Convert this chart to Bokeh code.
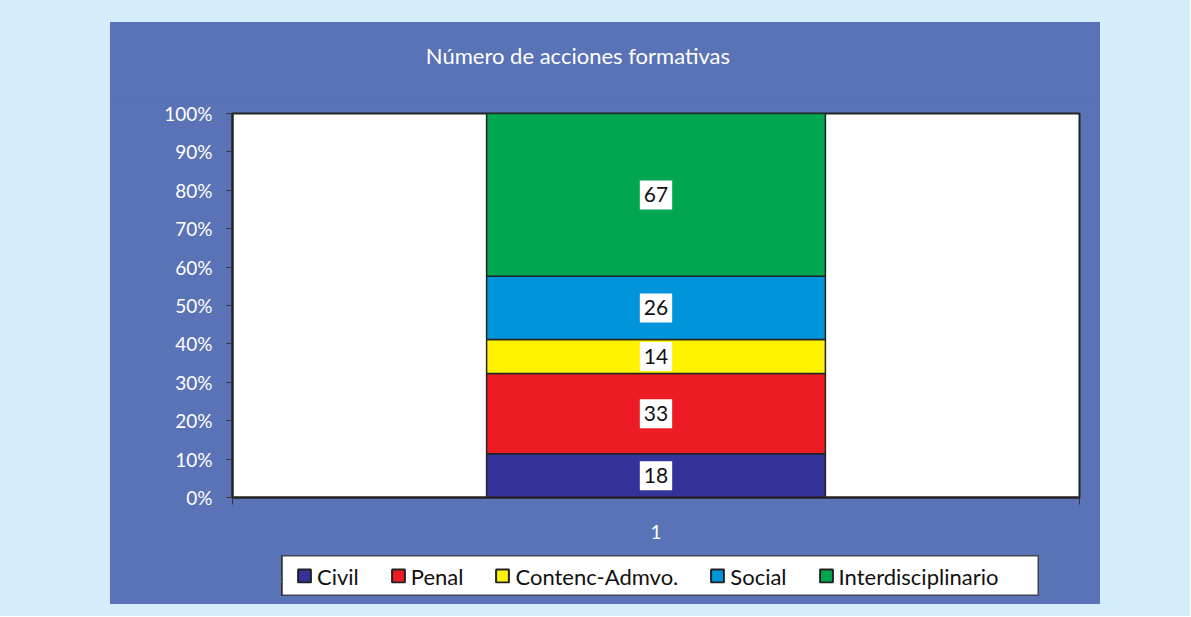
from bokeh.plotting import figure
from bokeh.models import (ColumnDataSource, Range1d, FixedTicker, NumeralTickFormatter,
                          Legend, LegendItem, Spacer, Label)
from bokeh.layouts import column, row
from bokeh.core.properties import value
from bokeh.embed import file_html
from bokeh.resources import INLINE

categories = ["Civil", "Penal", "Contenc-Admvo.", "Social", "Interdisciplinario"]
counts = [18, 33, 14, 26, 67]
colors = ["#333399", "#ed1c24", "#fff200", "#0095da", "#00a650"]
group_label = "1"
y_ticks = [0, 0.1, 0.2, 0.3, 0.4, 0.5, 0.6, 0.7, 0.8, 0.9, 1.0]
title_text = "Número de acciones formativas"

FONT = "Lato"
PANEL = "#5a72b6"
OUTER = "#d5ecfa"

total = sum(counts)
fracs = [c / total for c in counts]
keys = ["k%d" % i for i in range(len(categories))]
data = {"x": [0.5]}
for k, f in zip(keys, fracs):
    data[k] = [f]
src = ColumnDataSource(data)

# title strip: its own small figure whose frame is the whole strip
TW, TH = 990, 77
t = figure(width=TW, height=TH, output_backend="svg", toolbar_location=None,
           x_range=Range1d(0, TW), y_range=Range1d(0, TH),
           x_axis_location=None, y_axis_location=None, min_border=0, title=None)
t.xgrid.visible = False
t.ygrid.visible = False
t.background_fill_color = PANEL
t.border_fill_color = PANEL
t.outline_line_color = None
t.add_layout(Label(x=226, y=TH - 33, text=title_text, text_align="left", text_baseline="middle",
                   text_color="white", text_font=FONT, text_font_size="22px"))

p = figure(width=990, height=533 - TH, output_backend="svg", toolbar_location=None,
           x_range=Range1d(0, 1), y_range=Range1d(0, 1), title=None,
           min_border_left=122, min_border_right=21, min_border_top=91 - TH, min_border_bottom=58)
p.border_fill_color = PANEL
p.background_fill_color = "white"
p.outline_line_color = "#222222"
p.outline_line_width = 2
p.xgrid.visible = False
p.ygrid.visible = False

rs = p.vbar_stack(keys, x="x", width=0.4, color=colors, source=src,
                  line_color="#222222", line_width=1.5)

centers = []
cum = 0
for f in fracs:
    centers.append(cum + f / 2)
    cum += f
lsrc = ColumnDataSource(dict(x=[0.5] * len(counts), y=centers, t=[str(c) for c in counts]))
p.text(x="x", y="y", text="t", source=lsrc, text_align="center", text_baseline="middle",
       text_font=value(FONT), text_font_size="21px", text_color="#111111",
       background_fill_color="white", padding=(4, 7))

p.yaxis.ticker = FixedTicker(ticks=y_ticks)
p.yaxis.formatter = NumeralTickFormatter(format="0%")
p.yaxis.major_label_text_color = "white"
p.yaxis.major_label_text_font = FONT
p.yaxis.major_label_text_font_size = "19px"
p.yaxis.major_tick_out = 6
p.yaxis.major_tick_in = 0
p.yaxis.minor_tick_line_color = None
p.yaxis.major_tick_line_color = "#333344"
p.yaxis.axis_line_color = "#222222"
p.yaxis.axis_line_width = 2
p.yaxis.major_label_standoff = 14

p.xaxis.ticker = FixedTicker(ticks=[0.5], minor_ticks=[0, 1])
p.xaxis.major_label_overrides = {0.5: group_label}
p.xaxis.major_tick_line_color = None
p.xaxis.minor_tick_line_color = "#333344"
p.xaxis.minor_tick_out = 7
p.xaxis.minor_tick_in = 0
p.xaxis.major_label_text_color = "white"
p.xaxis.major_label_text_font = FONT
p.xaxis.major_label_text_font_size = "19px"
p.xaxis.major_label_standoff = 20
p.xaxis.axis_line_color = "#222222"
p.xaxis.axis_line_width = 2

# legend box as its own small figure
q = figure(width=758, height=41, output_backend="svg", toolbar_location=None,
           x_range=Range1d(10, 11), y_range=Range1d(0, 1),
           x_axis_location=None, y_axis_location=None, min_border=0)
q.xgrid.visible = False
q.ygrid.visible = False
q.background_fill_color = "white"
q.border_fill_color = PANEL
q.outline_line_color = "#444455"
q.outline_line_width = 2
qrs = q.vbar_stack(keys, x="x", width=0.4, color=colors, source=src,
                   line_color="#222222", line_width=2)
legend = Legend(items=[LegendItem(label=c, renderers=[r]) for c, r in zip(categories, qrs)],
                orientation="horizontal", location="left")
legend.label_text_font = FONT
legend.label_text_font_size = "22px"
legend.label_text_color = "#111111"
legend.glyph_width = 16
legend.glyph_height = 16
legend.spacing = 31
legend.padding = 0
legend.margin = 15
legend.label_standoff = 5
legend.border_line_color = None
legend.background_fill_alpha = 0
q.add_layout(legend, "center")

panel = column(t, p, row(Spacer(width=171, height=41), q), Spacer(height=8, width=990),
               styles={"background-color": PANEL}, width=990, height=582)
layout = column(Spacer(height=22, width=1190), row(Spacer(width=110, height=582), panel),
                styles={"background-color": OUTER}, width=1190, height=616)

open("out.html", "w").write(file_html(layout, INLINE))
